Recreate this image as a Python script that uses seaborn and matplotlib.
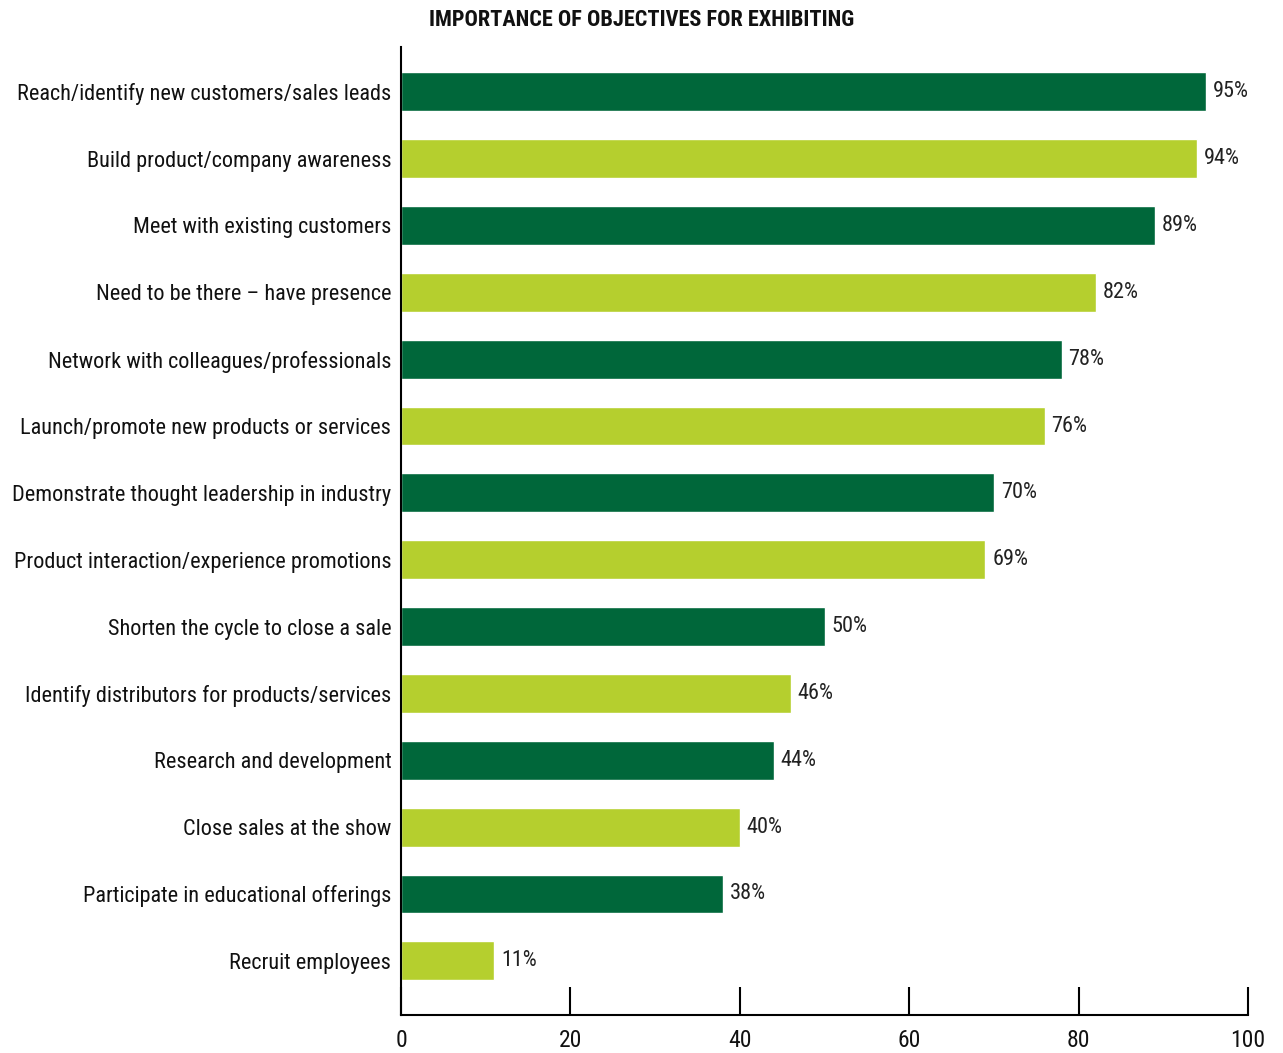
import matplotlib
matplotlib.use("Agg")
import matplotlib.pyplot as plt
from matplotlib import font_manager
from matplotlib.font_manager import FontProperties
import seaborn as sns
import pandas as pd

categories = [
    "Reach/identify new customers/sales leads",
    "Build product/company awareness",
    "Meet with existing customers",
    "Need to be there \u2013 have presence",
    "Network with colleagues/professionals",
    "Launch/promote new products or services",
    "Demonstrate thought leadership in industry",
    "Product interaction/experience promotions",
    "Shorten the cycle to close a sale",
    "Identify distributors for products/services",
    "Research and development",
    "Close sales at the show",
    "Participate in educational offerings",
    "Recruit employees",
]
values = [95, 94, 89, 82, 78, 76, 70, 69, 50, 46, 44, 40, 38, 11]
x_ticks = [0, 20, 40, 60, 80, 100]
title = "IMPORTANCE OF OBJECTIVES FOR EXHIBITING"

dark_green = "#00673A"
light_green = "#B5CF2E"

sns.set_theme(style="white")

# find a condensed/narrow font file if one is installed
regular_file, bold_file = None, None
cands = []
for f in font_manager.fontManager.ttflist:
    nm = f.name.lower()
    fn = f.fname.lower()
    st = str(f.stretch).lower()
    if "narrow" in nm or "condensed" in nm or "narrow" in fn or "condensed" in fn or st in ("condensed", "semi-condensed", "extra-condensed"):
        if "mono" in nm or "serif" in nm and "sans" not in nm:
            continue
        cands.append(f)
def score(f):
    nm = (f.name + f.fname).lower()
    s = 0
    if "liberation" in nm: s -= 4
    if "roboto" in nm: s -= 3
    if "dejavu" in nm: s -= 2
    if "italic" in nm or "oblique" in nm or f.style != "normal": s += 10
    return s
for f in sorted(cands, key=score):
    w = f.weight if isinstance(f.weight, int) else (700 if "bold" in str(f.weight) else 400)
    if f.style != "normal":
        continue
    if w >= 600 and bold_file is None:
        bold_file = f.fname
    if w < 600 and 350 <= w <= 500 and regular_file is None:
        regular_file = f.fname

if regular_file:
    fp = FontProperties(fname=regular_file, size=16)
    fp_tick = FontProperties(fname=regular_file, size=17)
    fp_bold = FontProperties(fname=bold_file, size=16) if bold_file else FontProperties(fname=regular_file, size=16, weight="bold")
else:
    plt.rcParams["font.family"] = ["Liberation Sans", "DejaVu Sans"]
    fp = FontProperties(family=["Liberation Sans", "DejaVu Sans"], size=13)
    fp_tick = FontProperties(family=["Liberation Sans", "DejaVu Sans"], size=14)
    fp_bold = FontProperties(family=["Liberation Sans", "DejaVu Sans"], size=15, weight="bold")

df = pd.DataFrame({"category": categories, "value": values})
df["group"] = ["dark" if i % 2 == 0 else "light" for i in range(len(df))]

fig = plt.figure(figsize=(12.83, 10.53), dpi=100)
ax = fig.add_axes([0.3126, 0.0361, 0.9727 - 0.3126, 0.9554 - 0.0361])

sns.barplot(data=df, x="value", y="category", hue="group",
            palette={"dark": dark_green, "light": light_green},
            dodge=False, width=0.58, legend=False, ax=ax, saturation=1)

for i, v in enumerate(values):
    ax.text(v + 0.8, i, f"{v}%", va="center", ha="left", color="#222222", fontproperties=fp)

ax.set_xlim(0, 100)
ax.set_ylim(13.81, -0.67)
ax.set_xticks(x_ticks)
ax.set_xticklabels([str(t) for t in x_ticks])
ax.tick_params(axis="x", bottom=True, direction="in", length=20, width=1.5, color="black", pad=10)
ax.tick_params(axis="y", left=False, length=0, pad=7)
for lab in ax.get_yticklabels():
    lab.set_fontproperties(fp)
    lab.set_color("#111111")
for lab in ax.get_xticklabels():
    lab.set_fontproperties(fp_tick)
    lab.set_color("#111111")
ax.set_xlabel("")
ax.set_ylabel("")
ax.spines["top"].set_visible(False)
ax.spines["right"].set_visible(False)
for s in ("left", "bottom"):
    ax.spines[s].set_color("black")
    ax.spines[s].set_linewidth(1.5)
ax.grid(False)

fig.text(0.5, 0.981, title, ha="center", va="center", color="#111111", fontproperties=fp_bold)

fig.savefig("out.png", dpi=100)
